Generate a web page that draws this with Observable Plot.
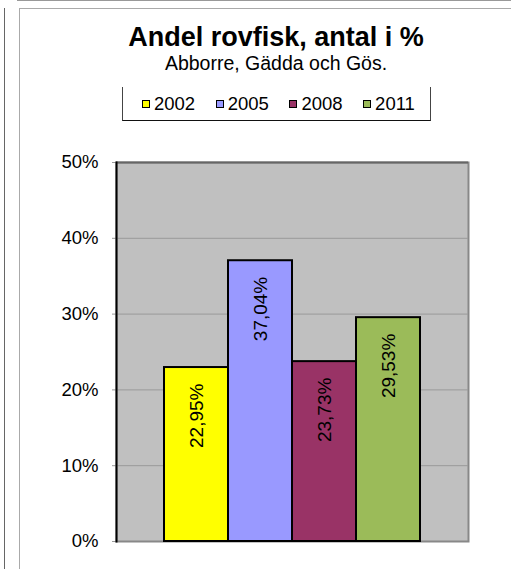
<!DOCTYPE html>
<html>
<head>
<meta charset="utf-8">
<script src="https://cdn.jsdelivr.net/npm/d3@7"></script>
<script src="https://cdn.jsdelivr.net/npm/@observablehq/plot@0.6"></script>
<style>
  html, body { margin: 0; padding: 0; background: #fff; }
  body { font-family: "Liberation Sans", Arial, sans-serif; }
  #wrap { position: relative; width: 511px; height: 569px; overflow: hidden; }
  .abs { position: absolute; }
  #title { left: 276px; top: 24px; transform: translateX(-50%); font-size: 27px; line-height: 26px; font-weight: bold; white-space: nowrap; color: #000; }
  #subtitle { left: 276px; top: 53px; transform: translateX(-50%); font-size: 19.5px; line-height: 20px; white-space: nowrap; color: #000; }
  #legend { left: 122px; top: 87px; width: 307px; height: 33px; border-left: 1px solid #444; border-right: 1px solid #444; border-bottom: 1px solid #111; }
  .item { position: absolute; top: 0; height: 33px; display: flex; align-items: center; font-size: 18.5px; }
  .sw { width: 6px; height: 6px; border: 1.5px solid #000; margin-right: 4px; margin-top: 1px; }
  #chart { left: 0; top: 130px; }
</style>
</head>
<body>
<div id="wrap">
  <div class="abs" style="left:4px;top:8px;width:0;height:561px;border-left:1.5px solid #666;"></div>
  <div class="abs" style="left:19px;top:8px;width:0;height:561px;border-left:1.5px solid #aaa;"></div>
  <div class="abs" style="left:17px;top:0px;width:494px;height:0;border-top:1px solid #999;"></div>
  <div class="abs" style="left:19px;top:8px;width:492px;height:0;border-top:1px solid #aaa;"></div>
  <div class="abs" id="title">Andel rovfisk, antal i %</div>
  <div class="abs" id="subtitle">Abborre, Gädda och Gös.</div>
  <div class="abs" id="legend"></div>
  <div class="abs" id="chart"></div>
</div>
<script>
const years = ["2002", "2005", "2008", "2011"];
const values = [22.95, 37.04, 23.73, 29.53];
const colors = ["#FFFF00", "#9999FF", "#993366", "#9BBB59"];
const yTicks = [0, 10, 20, 30, 40, 50];

const data = years.map((y, i) => ({year: y, value: values[i]}));
const fmt = v => v.toFixed(2).replace(".", ",") + "%";

// legend
const legend = document.getElementById("legend");
years.forEach((y, i) => {
  const it = document.createElement("div");
  it.className = "item";
  it.style.left = (19 + i * 73.7) + "px";
  const sw = document.createElement("div");
  sw.className = "sw";
  sw.style.background = colors[i];
  const t = document.createElement("span");
  t.textContent = y;
  it.appendChild(sw);
  it.appendChild(t);
  legend.appendChild(it);
});

const chart = Plot.plot({
  width: 511,
  height: 439,
  marginTop: 32,
  marginBottom: 28,
  marginLeft: 116,
  marginRight: 43,
  style: {fontFamily: "Liberation Sans, Arial, sans-serif", fontSize: "18.5px", background: "transparent", color: "#000"},
  x: {domain: years, paddingInner: 0, paddingOuter: 0.75, axis: null},
  y: {domain: [0, 50], axis: null},
  color: {domain: years, range: colors},
  marks: [
    Plot.frame({fill: "#c0c0c0", stroke: "#888", strokeWidth: 2}),
    Plot.ruleY(yTicks.slice(1, -1), {stroke: "#999", strokeWidth: 1}),
    Plot.ruleY([50], {stroke: "#666", strokeWidth: 2}),
    Plot.axisY({ticks: yTicks, tickSize: 4, tickPadding: 14, stroke: "#999", label: null, tickFormat: d => d + "%", fontSize: "18.5px"}),
    Plot.barY(data, {x: "year", y: "value", fill: "year", stroke: "#000", strokeWidth: 2}),
    Plot.text(data, {x: "year", y: "value", text: d => fmt(d.value), rotate: -90, textAnchor: "end", dy: 16, fontSize: 19, fill: "#000"}),
    Plot.frame({anchor: "left", stroke: "#000", strokeWidth: 2})
  ]
});
document.getElementById("chart").appendChild(chart);
</script>
</body>
</html>
